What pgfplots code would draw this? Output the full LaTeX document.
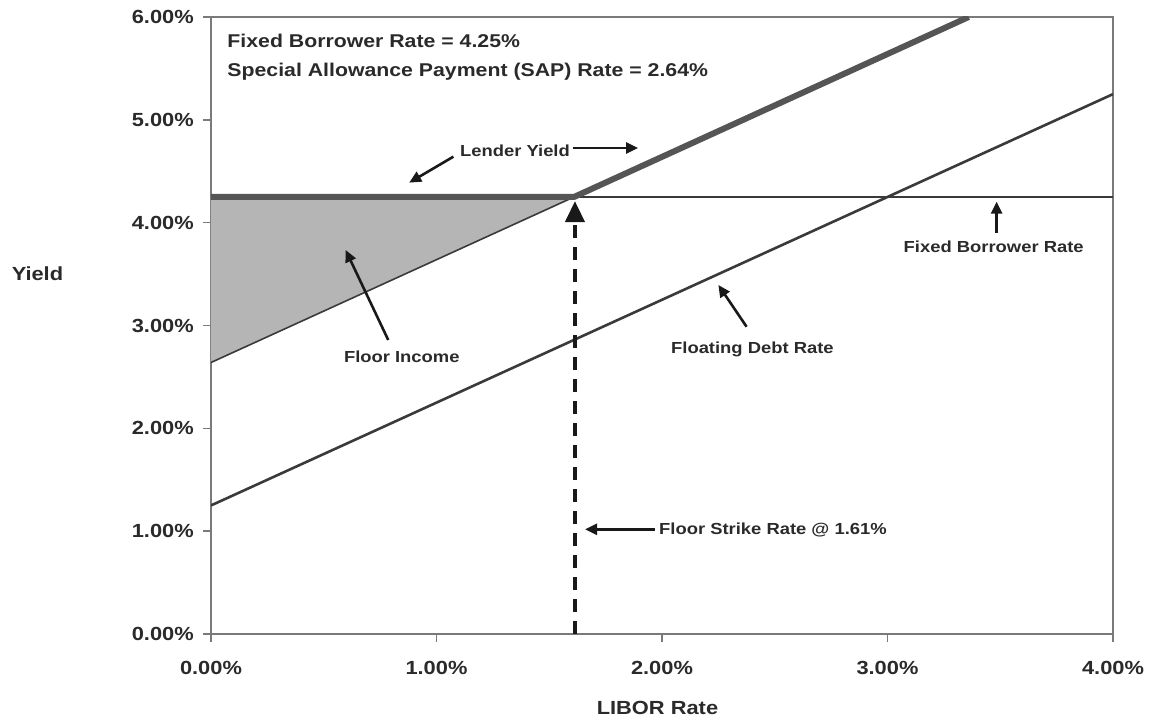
\documentclass[border=0pt]{standalone}
\usepackage{pgfplots}
\pgfplotsset{compat=1.18}
\usepackage{fontspec}
\setmainfont{Liberation Sans}[FakeStretch=1.15]
\usetikzlibrary{arrows.meta}

\definecolor{axisgray}{HTML}{7A7A7A}
\definecolor{linegray}{HTML}{3A3A3A}
\definecolor{lendergray}{HTML}{555555}
\definecolor{floorfill}{HTML}{B5B5B5}
\definecolor{txt}{HTML}{2A2A2A}

\tikzset{
    annot/.style={font=\fontsize{16}{19}\selectfont\bfseries, text=txt, inner sep=0pt, anchor=base},
    arr/.style={-{Triangle[length=12pt,width=11pt]}, line width=2.6pt, black!90},
}

\begin{document}
\begin{tikzpicture}
\useasboundingbox (-211pt,-85pt) rectangle (940pt,634pt);
\begin{axis}[
    scale only axis,
    width=902pt, height=617pt,
    xmin=0, xmax=4, ymin=0, ymax=6,
    xtick={0,1,2,3,4},
    xticklabels={0.00\%,1.00\%,2.00\%,3.00\%,4.00\%},
    ytick={0,1,2,3,4,5,6},
    yticklabels={0.00\%,1.00\%,2.00\%,3.00\%,4.00\%,5.00\%,6.00\%},
    tick align=outside,
    major tick length=8pt,
    tick style={axisgray, line width=1.6pt},
    xtick pos=bottom, ytick pos=left,
    axis line style={axisgray, line width=1.8pt},
    ticklabel style={font=\fontsize{19}{22}\selectfont\bfseries, text=txt},
    xticklabel style={inner sep=0pt, anchor=north, yshift=-19pt},
    yticklabel style={inner sep=0pt, anchor=east, xshift=-9pt},
    xlabel={LIBOR Rate}, ylabel={Yield},
    every axis x label/.style={at={(axis description cs:0.495,-0.120)}, anchor=center,
        font=\fontsize{19}{22}\selectfont\bfseries, text=txt},
    every axis y label/.style={at={(axis description cs:-0.1924,0.5835)}, anchor=center,
        font=\fontsize{19}{22}\selectfont\bfseries, text=txt},
]
% floor income area
\addplot[fill=floorfill, draw=none] coordinates {(0,2.64) (1.61,4.25) (0,4.25)} -- cycle;
% SAP rate line
\addplot[linegray, line width=1.6pt] coordinates {(0,2.64) (1.61,4.25)};
% floating debt rate
\addplot[linegray, line width=2.6pt] coordinates {(0,1.25) (4,5.25)};
% fixed borrower rate
\addplot[linegray, line width=2.4pt] coordinates {(0,4.25) (4,4.25)};
% lender yield
\addplot[lendergray, line width=6pt] coordinates {(0,4.25) (1.61,4.25) (3.36,6.00)};
% floor strike
\addplot[black!90, line width=4pt, dash pattern=on 13pt off 9pt,
    -{Triangle[length=21pt,width=19pt]}] coordinates {(1.614,0) (1.614,4.21)};

\node[font=\fontsize{18.5}{22}\selectfont\bfseries, text=txt, anchor=base west, inner sep=0pt]
    at (axis cs:0.072,5.708) {Fixed Borrower Rate = 4.25\%};
\node[font=\fontsize{18.5}{22}\selectfont\bfseries, text=txt, anchor=base west, inner sep=0pt]
    at (axis cs:0.072,5.42) {Special Allowance Payment (SAP) Rate = 2.64\%};

\node[annot] at (axis cs:1.348,4.648) {Lender Yield};
\draw[arr] (axis cs:1.075,4.642) -- (axis cs:0.879,4.389);
\draw[arr] (axis cs:1.607,4.726) -- (axis cs:1.894,4.726);

\node[annot] at (axis cs:3.471,3.708) {Fixed Borrower Rate};
\draw[arr] (axis cs:3.484,3.897) -- (axis cs:3.484,4.204);

\node[annot] at (axis cs:2.401,2.723) {Floating Debt Rate};
\draw[arr] (axis cs:2.375,2.988) -- (axis cs:2.250,3.394);

\node[annot] at (axis cs:0.846,2.645) {Floor Income};
\draw[arr] (axis cs:0.786,2.859) -- (axis cs:0.597,3.734);

\node[annot] at (axis cs:2.492,0.963) {Floor Strike Rate @ 1.61\%};
\draw[arr] (axis cs:1.969,1.018) -- (axis cs:1.659,1.018);
\end{axis}
\end{tikzpicture}
\end{document}
